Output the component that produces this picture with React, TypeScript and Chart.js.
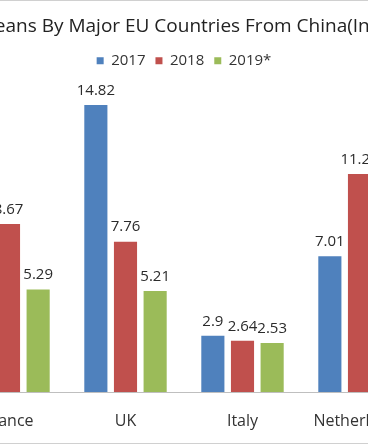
import React, { useEffect, useRef } from "react";
import { Chart, registerables } from "chart.js";

Chart.register(...registerables);

const chartTitle = "Imports of Beans By Major EU Countries From China(In Million USD)";
const categories = ["France", "UK", "Italy", "Netherlands"];
const seriesNames = ["2017", "2018", "2019*"];
const values2017 = [9.58, 14.82, 2.9, 7.01];
const values2018 = [8.67, 7.76, 2.64, 11.25];
const values2019 = [5.29, 5.21, 2.53, 6.2];
const seriesColors = ["#4F81BD", "#C0504D", "#9BBB59"];
const yMax = 16.2;

const FONT = "'Open Sans', 'Noto Sans', sans-serif";

const valueLabels = {
  id: "valueLabels",
  afterDatasetsDraw(chart: any) {
    const ctx = chart.ctx;
    ctx.save();
    ctx.font = `15px ${FONT}`;
    ctx.fillStyle = "#2b2b2b";
    ctx.textAlign = "center";
    ctx.textBaseline = "bottom";
    chart.data.datasets.forEach((ds: any, i: number) => {
      const meta = chart.getDatasetMeta(i);
      meta.data.forEach((el: any, j: number) => {
        ctx.fillText(String(ds.data[j]), el.x, el.y - 7);
      });
    });
    ctx.restore();
  },
};

export default function App() {
  const ref = useRef<HTMLCanvasElement>(null);
  useEffect(() => {
    if (!ref.current) return;
    const all = [values2017, values2018, values2019];
    const chart = new Chart(ref.current, {
      type: "bar",
      data: {
        labels: categories,
        datasets: all.map((d, i) => ({
          label: seriesNames[i],
          data: d,
          backgroundColor: seriesColors[i],
          categoryPercentage: 0.76,
          barPercentage: 0.78,
        })),
      },
      options: {
        responsive: false,
        animation: false,
        devicePixelRatio: 1,
        layout: { padding: 0 },
        plugins: {
          title: {
            display: true,
            text: chartTitle,
            color: "#222222",
            font: { family: FONT, size: 19, weight: "normal" },
            padding: { top: 15.6, bottom: 4.8 },
          },
          legend: {
            display: true,
            labels: {
              boxWidth: 7,
              boxHeight: 7,
              color: "#333333",
              font: { family: FONT, size: 15 },
              padding: 10,
            },
          },
          tooltip: { enabled: false },
        },
        scales: {
          x: {
            grid: { display: false, drawTicks: false },
            border: { display: true, color: "#BFBFBF", width: 1 },
            ticks: { color: "#333333", font: { family: FONT, size: 16 }, padding: 20 },
            afterFit: (scale: any) => {
              scale.paddingLeft = 116;
              scale.paddingRight = 116;
              scale.height = 51;
            },
          },
          y: { display: false, min: 0, max: yMax },
        },
      },
      plugins: [valueLabels],
    });
    return () => chart.destroy();
  }, []);

  return (
    <div style={{ position: "fixed", left: 0, top: 0, width: 368, height: 445, overflow: "hidden", background: "#fff" }}>
      <div style={{ position: "absolute", left: -166, top: 0, width: 700, height: 443 }}>
        <canvas ref={ref} width={700} height={443} style={{ width: 700, height: 443, display: "block" }} />
      </div>
      <div style={{ position: "absolute", left: 0, top: 0, width: 368, height: 1, background: "#D0D0D0" }} />
      <div style={{ position: "absolute", left: 0, top: 443, width: 368, height: 1, background: "#D0D0D0" }} />
    </div>
  );
}
